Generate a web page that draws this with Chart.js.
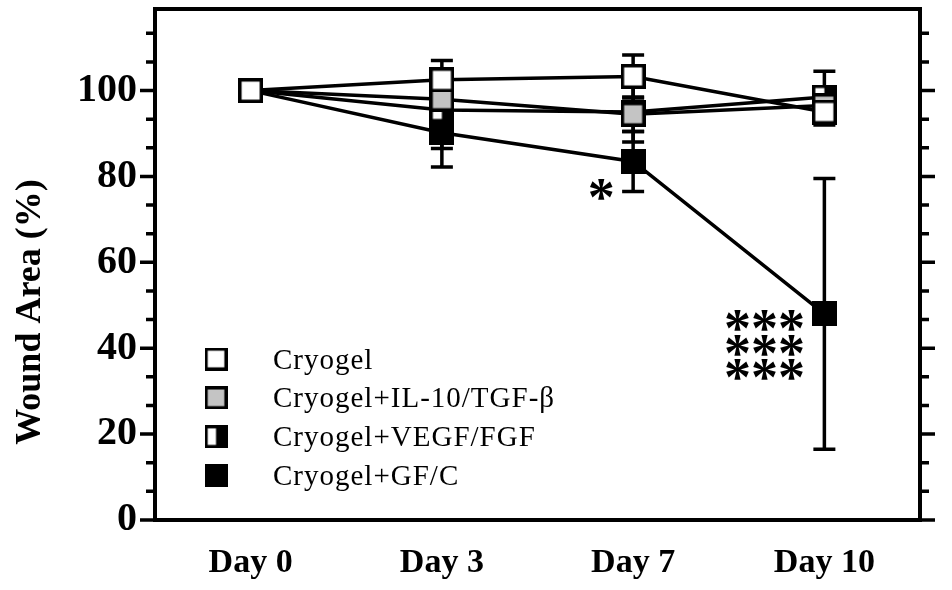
<!DOCTYPE html>
<html>
<head>
<meta charset="utf-8">
<script src="https://cdn.jsdelivr.net/npm/chart.js@4.4.1/dist/chart.umd.min.js"></script>
<style>
html, body { margin: 0; padding: 0; background: #fff; }
canvas { display: block; }
</style>
</head>
<body>
<canvas id="grafico" width="952" height="590"></canvas>
<script>
const days = ["Day 0", "Day 3", "Day 7", "Day 10"];
const groupNames = ["Cryogel", "Cryogel+IL-10/TGF-β", "Cryogel+VEGF/FGF", "Cryogel+GF/C"];

// mean wound area (%) and error per group
const cryogelMean = [100, 102.5, 103.3, 95];
const cryogelErr  = [0, 4.5, 5, 3];
const il10Mean    = [100, 98, 94.5, 96.5];
const il10Err     = [0, 3, 4, 2.5];
const vegfMean    = [100, 95.5, 95, 98.5];
const vegfErr     = [0, 9, 7, 6];
const gfcMean     = [100, 90.2, 83.5, 48];
const gfcErr      = [0, 8, 7, 31.5];

const yLabels = [0, 20, 40, 60, 80, 100];

// significance stars
const starText  = ["*", "***", "***", "***"];
const starDay   = ["Day 7", "Day 10", "Day 10", "Day 10"];
const starValue = [77, 46.5, 40.7, 35];

const means  = [cryogelMean, il10Mean, vegfMean, gfcMean];
const errors = [cryogelErr, il10Err, vegfErr, gfcErr];

function makeMarker(kind) {
  const s = 25, b = 3.5;
  const c = document.createElement("canvas");
  c.width = s; c.height = s;
  const g = c.getContext("2d");
  if (kind === "half") {
    g.fillStyle = "#fff"; g.fillRect(0, 0, s, s);
    g.fillStyle = "#000"; g.fillRect(s / 2, 0, s / 2, s);
  } else {
    g.fillStyle = kind; g.fillRect(0, 0, s, s);
  }
  g.lineWidth = b;
  g.strokeStyle = "#000";
  g.strokeRect(b / 2, b / 2, s - b, s - b);
  return c;
}
const markers = [makeMarker("#fff"), makeMarker("#c4c4c4"), makeMarker("half"), makeMarker("#000")];

const errorBars = {
  id: "errorBars",
  beforeDatasetsDraw(chart) {
    const ctx = chart.ctx, y = chart.scales.y;
    ctx.save();
    ctx.strokeStyle = "#000";
    ctx.lineWidth = 3.5;
    chart.data.datasets.forEach((ds, i) => {
      const meta = chart.getDatasetMeta(i);
      ds.data.forEach((v, j) => {
        const e = errors[i][j];
        if (!e) return;
        const x = meta.data[j].x;
        const top = y.getPixelForValue(v + e), bot = y.getPixelForValue(v - e);
        ctx.beginPath();
        ctx.moveTo(x, top); ctx.lineTo(x, bot);
        ctx.moveTo(x - 11, top); ctx.lineTo(x + 11, top);
        ctx.moveTo(x - 11, bot); ctx.lineTo(x + 11, bot);
        ctx.stroke();
      });
    });
    ctx.restore();
  }
};

const frameAndExtras = {
  id: "frameAndExtras",
  afterDraw(chart) {
    const ctx = chart.ctx, a = chart.chartArea, y = chart.scales.y, x = chart.scales.x;
    ctx.save();
    ctx.strokeStyle = "#000";
    ctx.fillStyle = "#000";

    // ticks on both sides, 2 minor between majors
    ctx.lineWidth = 3.5;
    for (let k = 0; k * 20 / 3 <= y.max; k++) {
      const py = y.getPixelForValue(k * 20 / 3);
      const len = k % 3 === 0 ? 15 : 9;
      ctx.beginPath();
      ctx.moveTo(a.left, py); ctx.lineTo(a.left - len, py);
      ctx.moveTo(a.right, py); ctx.lineTo(a.right + len, py);
      ctx.stroke();
    }

    // frame
    ctx.lineWidth = 4;
    ctx.strokeRect(a.left, a.top, a.right - a.left, a.bottom - a.top);

    // y title
    ctx.font = "bold 36px 'Liberation Serif'";
    const capT = ctx.measureText("W").actualBoundingBoxAscent;
    ctx.translate(28, 312);
    ctx.rotate(-Math.PI / 2);
    ctx.textAlign = "center";
    ctx.textBaseline = "alphabetic";
    ctx.fillText("Wound Area (%)", 0, capT / 2);
    ctx.setTransform(chart.currentDevicePixelRatio, 0, 0, chart.currentDevicePixelRatio, 0, 0);

    // stars
    ctx.font = "bold 54px 'Liberation Serif'";
    ctx.textAlign = "center";
    const m = ctx.measureText("*");
    const starMid = (m.actualBoundingBoxAscent - m.actualBoundingBoxDescent) / 2;
    starText.forEach((t, i) => {
      const sx = x.getPixelForValue(days.indexOf(starDay[i])) + (t.length > 1 ? -60 : -32);
      const sy = y.getPixelForValue(starValue[i]);
      ctx.fillText(t, sx, sy + starMid);
    });

    // legend
    ctx.font = "29px 'Liberation Serif'";
    if ("letterSpacing" in ctx) ctx.letterSpacing = "1px";
    ctx.textAlign = "left";
    const capL = ctx.measureText("C").actualBoundingBoxAscent;
    groupNames.forEach((name, i) => {
      const ly = a.bottom - 161 + i * 38.8;
      ctx.drawImage(markers[i], a.left + 61 - 11.5, ly - 11.5, 23, 23);
      ctx.fillText(name, a.left + 118, ly + capL / 2);
    });
    ctx.restore();
  }
};

new Chart(document.querySelector("#grafico"), {
  type: "line",
  data: {
    labels: days,
    datasets: means.map((d, i) => ({
      label: groupNames[i],
      data: d,
      borderColor: "#000",
      borderWidth: 3.5,
      tension: 0,
      fill: false,
      pointStyle: markers[i],
      pointRadius: 12
    }))
  },
  options: {
    responsive: false,
    animation: false,
    events: [],
    layout: { autoPadding: false, padding: { top: 9, right: 32, left: 0, bottom: 0 } },
    plugins: { legend: { display: false }, tooltip: { enabled: false } },
    scales: {
      x: {
        offset: true,
        grid: { display: false, drawTicks: false },
        border: { display: false },
        ticks: { color: "#000", padding: 23, font: { family: "'Liberation Serif'", weight: "bold", size: 34 } },
        afterFit: s => { s.height = 70; s.paddingLeft = 0; s.paddingRight = 0; }
      },
      y: {
        min: 0,
        max: 119,
        grid: { display: false, drawTicks: false },
        border: { display: false },
        afterBuildTicks: s => { s.ticks = yLabels.map(v => ({ value: v })); },
        ticks: { color: "#000", padding: 18, font: { family: "'Liberation Serif'", weight: "bold", size: 40 } },
        afterFit: s => { s.width = 155; s.paddingTop = 0; s.paddingBottom = 0; }
      }
    }
  },
  plugins: [errorBars, frameAndExtras]
});
</script>
</body>
</html>
